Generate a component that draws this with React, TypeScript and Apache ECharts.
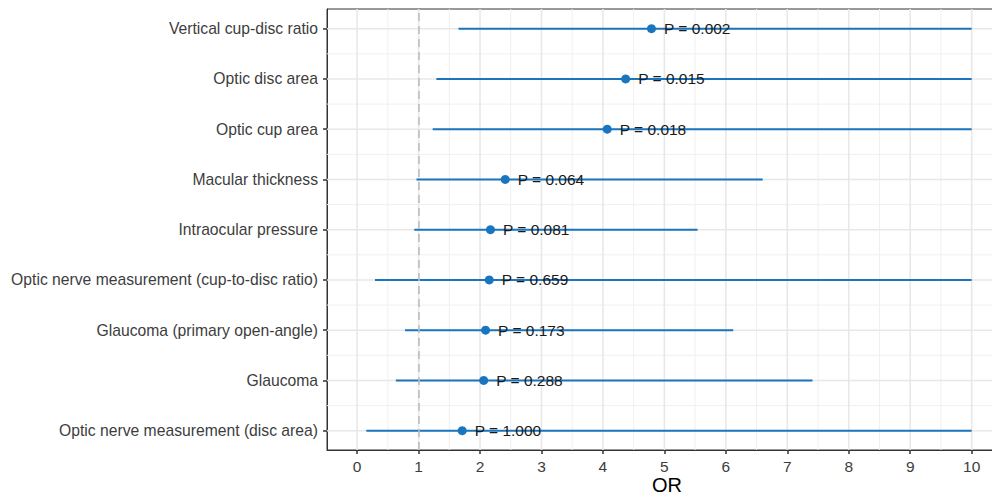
import React, { useEffect, useRef } from "react";
import * as echarts from "echarts";

// Rows from bottom (y = 1) to top (y = 9)
const categories = [
  "Optic nerve measurement (disc area)",
  "Glaucoma",
  "Glaucoma (primary open-angle)",
  "Optic nerve measurement (cup-to-disc ratio)",
  "Intraocular pressure",
  "Macular thickness",
  "Optic cup area",
  "Optic disc area",
  "Vertical cup-disc ratio",
];
const orValues = [1.71, 2.06, 2.09, 2.15, 2.17, 2.41, 4.07, 4.37, 4.79];
const lowerCI = [0.15, 0.63, 0.78, 0.29, 0.93, 0.966, 1.23, 1.29, 1.65];
const upperCI = [10, 7.41, 6.12, 10, 5.54, 6.6, 10, 10, 10];
const pValues = ["1.000", "0.288", "0.173", "0.659", "0.081", "0.064", "0.018", "0.015", "0.002"];

const xTicks = [0, 1, 2, 3, 4, 5, 6, 7, 8, 9, 10];
const xMinor = [0.5, 1.5, 2.5, 3.5, 4.5, 5.5, 6.5, 7.5, 8.5, 9.5, 10.5];
const yTicks = [1, 2, 3, 4, 5, 6, 7, 8, 9];
const yMinor = [1.5, 2.5, 3.5, 4.5, 5.5, 6.5, 7.5, 8.5];
const refLine = 1;
const xTitle = "OR";

const X_MIN = -0.49;
const X_MAX = 10.51;
const Y_MIN = 0.616;
const Y_MAX = 9.392;

const BLUE = "#1a75bf";
const FONT = "'Liberation Sans', Arial, Helvetica, sans-serif";

export default function App() {
  const ref = useRef<HTMLDivElement>(null);

  useEffect(() => {
    if (!ref.current) return;
    const chart = echarts.init(ref.current, null, { renderer: "svg" });

    const gridData: number[][] = [];
    xMinor.forEach((v) => gridData.push([0, v, 0]));
    yMinor.forEach((v) => gridData.push([1, v, 0]));
    xTicks.forEach((v) => gridData.push([0, v, 1]));
    yTicks.forEach((v) => gridData.push([1, v, 1]));

    const barData = categories.map((_, i) => [lowerCI[i], upperCI[i], i + 1]);
    const pointData = categories.map((_, i) => [orValues[i], i + 1, pValues[i]]);

    chart.setOption({
      animation: false,
      backgroundColor: "#ffffff",
      textStyle: { fontFamily: FONT },
      grid: {
        left: 327,
        right: -11,
        top: 9,
        bottom: 45,
        containLabel: false,
        outerBoundsMode: "none",
        show: true,
        borderColor: "#333333",
        borderWidth: 1,
        backgroundColor: "#ffffff",
      },
      graphic: [
        {
          type: "text",
          left: 652,
          top: 475,
          style: {
            text: xTitle,
            fontSize: 20,
            fill: "#000000",
            fontFamily: FONT,
          },
        },
      ],
      xAxis: {
        type: "value",
        min: X_MIN,
        max: X_MAX,
        axisLine: { show: true, onZero: false, lineStyle: { color: "#333333", width: 1 } },
        axisTick: { show: true, length: 4, customValues: xTicks, lineStyle: { color: "#333333", width: 1.5 } },
        axisLabel: {
          customValues: xTicks,
          margin: 8,
          fontSize: 15.5,
          color: "#3d3d3d",
          fontFamily: FONT,
        },
        splitLine: { show: false },
      },
      yAxis: {
        type: "value",
        min: Y_MIN,
        max: Y_MAX,
        axisLine: { show: true, onZero: false, lineStyle: { color: "#333333", width: 1 } },
        axisTick: { show: true, length: 4, customValues: yTicks, lineStyle: { color: "#333333", width: 1.5 } },
        axisLabel: {
          customValues: yTicks,
          margin: 9,
          fontSize: 15.7,
          color: "#3d3d3d",
          fontFamily: FONT,
          formatter: (v: number) => categories[Math.round(v) - 1] ?? "",
        },
        splitLine: { show: false },
      },
      series: [
        {
          type: "custom",
          z: 1,
          silent: true,
          clip: true,
          data: gridData,
          encode: { x: 1, y: 1 },
          renderItem: (params: any, api: any) => {
            const kind = api.value(0);
            const v = api.value(1);
            const major = api.value(2) === 1;
            let p1, p2;
            if (kind === 0) {
              p1 = api.coord([v, Y_MIN]);
              p2 = api.coord([v, Y_MAX]);
            } else {
              p1 = api.coord([X_MIN, v]);
              p2 = api.coord([X_MAX, v]);
            }
            return {
              type: "line",
              shape: { x1: p1[0], y1: p1[1], x2: p2[0], y2: p2[1] },
              style: { stroke: major ? "#e8e8e8" : "#f0f0f0", lineWidth: major ? 1.6 : 1 },
            };
          },
          markLine: {
            silent: true,
            symbol: ["none", "none"],
            label: { show: false },
            lineStyle: { color: "#bdbdbd", type: [8, 5], width: 1.6 },
            data: [{ xAxis: refLine }],
          },
        },
        {
          type: "custom",
          z: 3,
          silent: true,
          data: barData,
          encode: { x: [0, 1], y: 2 },
          renderItem: (params: any, api: any) => {
            const p1 = api.coord([api.value(0), api.value(2)]);
            const p2 = api.coord([api.value(1), api.value(2)]);
            return {
              type: "line",
              shape: { x1: p1[0], y1: p1[1], x2: p2[0], y2: p2[1] },
              style: { stroke: BLUE, lineWidth: 2 },
            };
          },
        },
        {
          type: "scatter",
          z: 4,
          symbol: "circle",
          symbolSize: 9,
          itemStyle: { color: BLUE, opacity: 1 },
          data: pointData,
          label: {
            show: true,
            position: "right",
            distance: 8,
            fontSize: 15.5,
            color: "#1a1a1a",
            fontFamily: FONT,
            formatter: (p: any) => "P = " + p.value[2],
          },
        },
      ],
    });

    return () => {
      chart.dispose();
    };
  }, []);

  return (
    <div
      ref={ref}
      style={{ position: "absolute", left: 0, top: 0, width: 992, height: 495 }}
    />
  );
}
